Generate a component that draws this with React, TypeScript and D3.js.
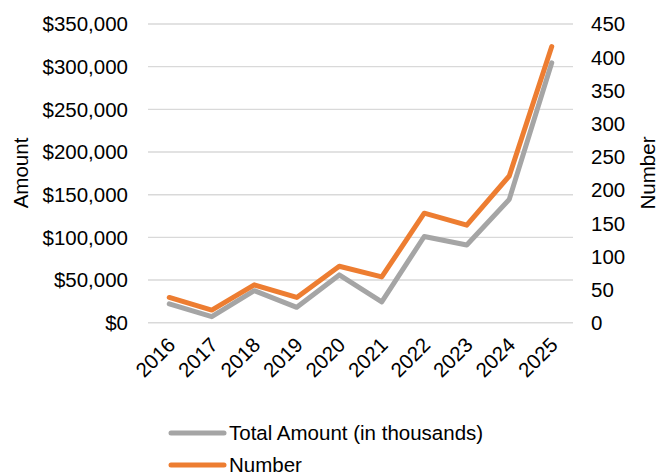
import React from "react";
import * as d3 from "d3";

const years = ["2016", "2017", "2018", "2019", "2020", "2021", "2022", "2023", "2024", "2025"];
const totalAmount = [22000, 7000, 37500, 18000, 56000, 24500, 101000, 91000, 144500, 304500];
const numberCount = [38, 19, 57, 38, 85, 69, 165, 147, 221, 416];
const leftTicks = [0, 50000, 100000, 150000, 200000, 250000, 300000, 350000];
const rightTicks = [0, 50, 100, 150, 200, 250, 300, 350, 400, 450];

const W = 660;
const H = 476;
const FONT = "'Liberation Sans', Arial, sans-serif";

export default function App() {
  const left = 148, right = 573, top = 24, bottom = 322.7;
  const x = d3.scaleBand<string>().domain(years).range([left, right]);
  const yL = d3.scaleLinear().domain([0, 350000]).range([bottom, top]);
  const yR = d3.scaleLinear().domain([0, 450]).range([bottom, top]);
  const cx = (d: string) => (x(d) as number) + x.bandwidth() / 2;
  const lineL = d3.line<number>().x((_, i) => cx(years[i])).y((v) => yL(v));
  const lineR = d3.line<number>().x((_, i) => cx(years[i])).y((v) => yR(v));
  const fmt = (v: number) => "$" + d3.format(",")(v);
  const fs = 20.5;

  return (
    <svg width={W} height={H} style={{ position: "absolute", left: 0, top: 0, background: "#fff" }} fontFamily={FONT}>
      {leftTicks.map((t) => (
        <line key={"g" + t} x1={left} x2={right} y1={yL(t)} y2={yL(t)} stroke="#D9D9D9" strokeWidth={1.4} />
      ))}
      {leftTicks.map((t) => (
        <text key={"l" + t} x={128} y={yL(t)} dy="0.36em" textAnchor="end" fontSize={fs} fill="#000">
          {fmt(t)}
        </text>
      ))}
      {rightTicks.map((t) => (
        <text key={"r" + t} x={591} y={yR(t)} dy="0.36em" textAnchor="start" fontSize={fs} fill="#000">
          {t}
        </text>
      ))}
      <text transform={`translate(28,173) rotate(-90)`} textAnchor="middle" fontSize={fs} fill="#000">
        Amount
      </text>
      <text transform={`translate(655,173) rotate(-90)`} textAnchor="middle" fontSize={fs} fill="#000">
        Number
      </text>
      {years.map((yr) => (
        <text
          key={yr}
          transform={`translate(${cx(yr) - 3},${336}) rotate(-45)`}
          textAnchor="end"
          dy="0.71em"
          fontSize={fs}
          fill="#000"
        >
          {yr}
        </text>
      ))}
      <path d={lineL(totalAmount) || ""} fill="none" stroke="#A5A5A5" strokeWidth={5} strokeLinejoin="round" strokeLinecap="round" />
      <path d={lineR(numberCount) || ""} fill="none" stroke="#ED7D31" strokeWidth={5} strokeLinejoin="round" strokeLinecap="round" />
      <line x1={171} x2={224} y1={433} y2={433} stroke="#A5A5A5" strokeWidth={5} strokeLinecap="round" />
      <text x={229} y={433} dy="0.36em" fontSize={fs} fill="#000">Total Amount (in thousands)</text>
      <line x1={171} x2={224} y1={465} y2={465} stroke="#ED7D31" strokeWidth={5} strokeLinecap="round" />
      <text x={229} y={465} dy="0.36em" fontSize={fs} fill="#000">Number</text>
    </svg>
  );
}
